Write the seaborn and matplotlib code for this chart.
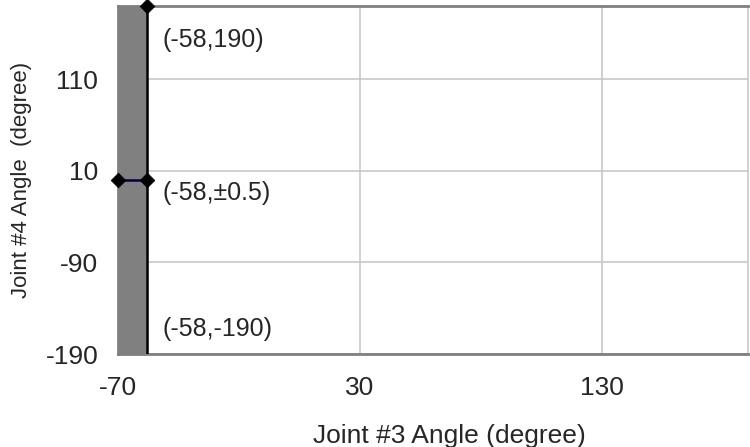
import pandas as pd
import numpy as np
import matplotlib
matplotlib.use('Agg')
from matplotlib import pyplot as plt
import seaborn as sns

# joint limits (degree)
j3_min, j3_max = -70, 190
j4_min, j4_max = -190, 190
j3_limit = -58

# boundary line at joint #3 = -58
edge_x = [-58, -58]
edge_y = [-190, 190]
# middle segment at joint #4 = 0
mid_x = [-70, -58]
mid_y = [0, 0]
# marked points
pt_x = [-58, -70, -58]
pt_y = [190, 0, 0]

labels = ['(-58,190)', '(-58,±0.5)', '(-58,-190)']
label_x = [-51.5, -51.5, -51.5]
label_y = [153, -14, -163]

xticks = [-70, 30, 130]
yticks = [-190, -90, 10, 110]

sns.set_style('white')
plt.rcParams['font.family'] = ['Liberation Sans', 'DejaVu Sans']
plt.rcParams['axes.unicode_minus'] = False

fig = plt.figure(figsize=(7.5, 4.47), dpi=100)
ax = fig.add_axes([0.157, 0.208, 0.84, 0.779])

ax.fill_betweenx(edge_y, j3_min, j3_limit, color='#808080', lw=0, zorder=1)
sns.lineplot(x=edge_x, y=edge_y, estimator=None, sort=False, color='black', lw=1.8, ax=ax, zorder=3)
sns.lineplot(x=mid_x, y=mid_y, estimator=None, sort=False, color='#000040', lw=1.8, ax=ax, zorder=3)
sns.scatterplot(x=pt_x, y=pt_y, marker='D', s=55, color='black', edgecolor='black', ax=ax, zorder=4, clip_on=False)

for t, x, y in zip(labels, label_x, label_y):
    ax.text(x, y, t, fontsize=18, ha='left', va='center')

ax.set_xlim(j3_min, j3_max)
ax.set_ylim(j4_min, j4_max)
ax.set_xticks(xticks)
ax.set_yticks(yticks)
ax.grid(True, color='#c8c8c8', lw=1.2)
ax.set_axisbelow(True)
ax.tick_params(labelsize=19, length=0)
ax.tick_params(axis='y', pad=14)
ax.tick_params(axis='x', pad=16)

for side in ['left', 'bottom', 'top']:
    ax.spines[side].set_color('#808080')
    ax.spines[side].set_linewidth(2)
ax.spines['right'].set_color('#c8c8c8')
ax.spines['right'].set_linewidth(1.2)

ax.set_xlabel('Joint #3 Angle (degree)', fontsize=19)
ax.xaxis.set_label_coords(0.527, -0.2)
ax.set_ylabel('Joint #4 Angle  (degree)', fontsize=16)
ax.yaxis.set_label_coords(-0.136, 0.5)

fig.savefig('out.png', dpi=100)
